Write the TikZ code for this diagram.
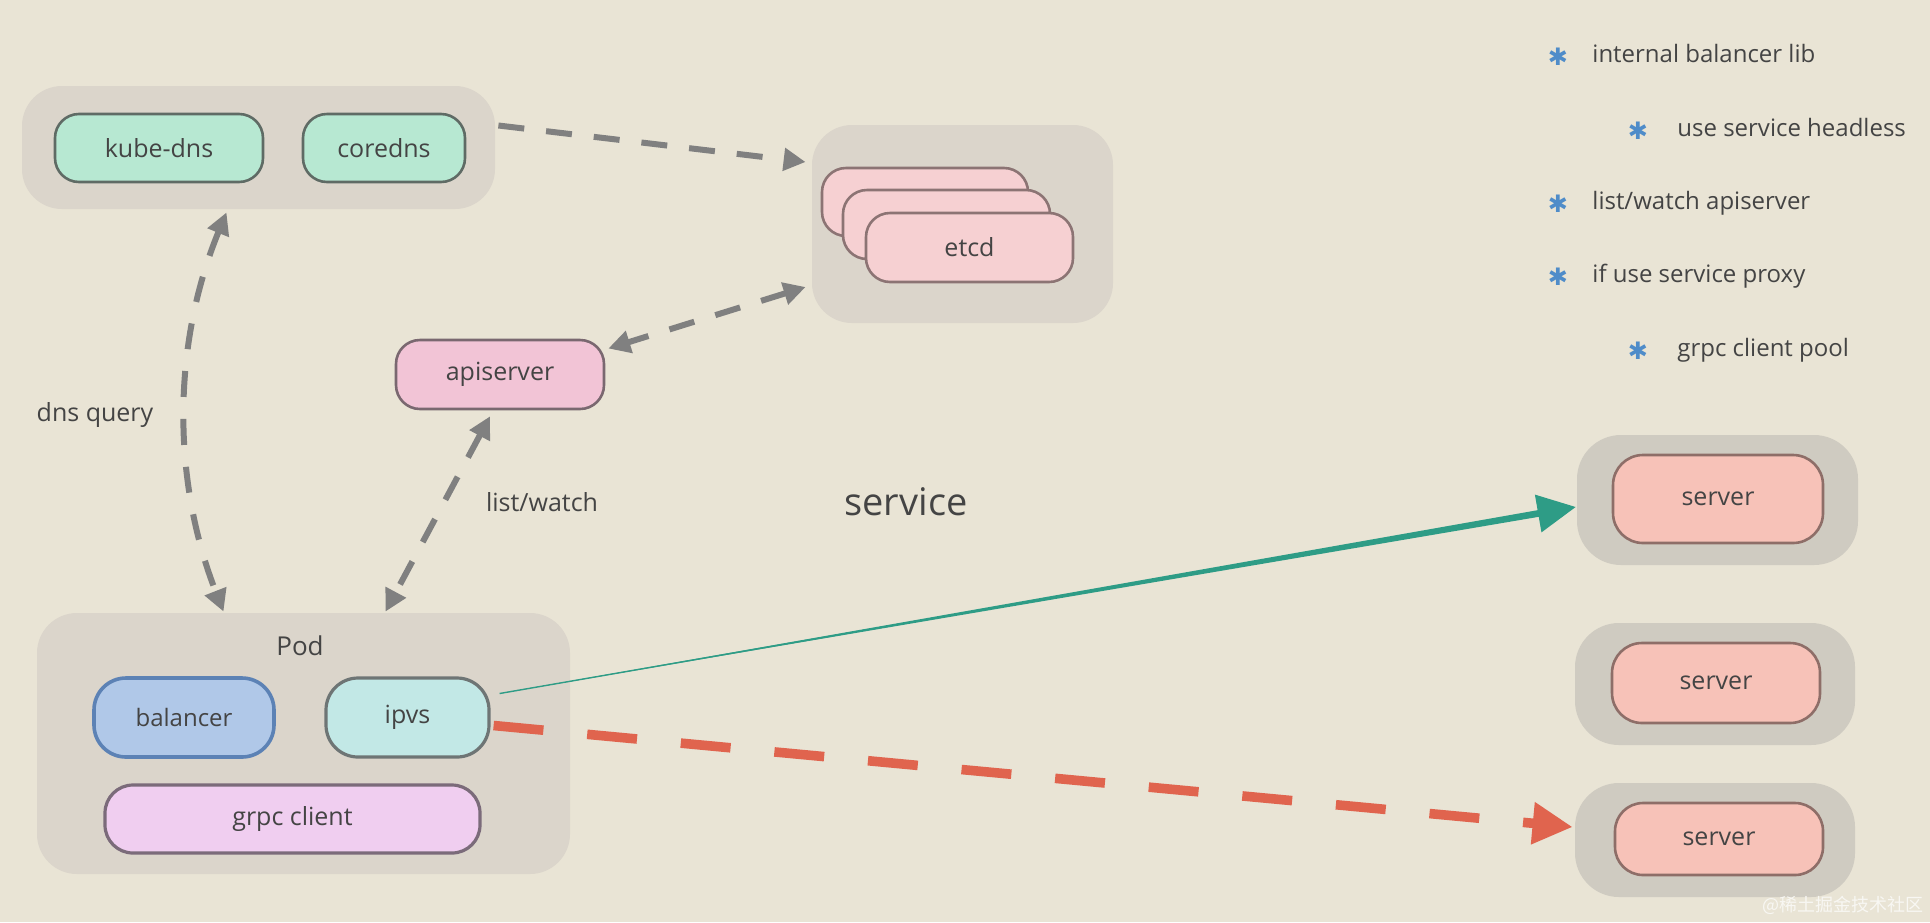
\documentclass[tikz,border=0pt]{standalone}
\usepackage{fontspec}
\setmainfont{Open Sans}
\newfontfamily\djv{DejaVu Sans}
\newfontfamily\cjkf{Noto Sans CJK SC}
\usetikzlibrary{arrows.meta,calc}

\definecolor{bg}{HTML}{E9E4D5}
\definecolor{contgray}{HTML}{DBD5CB}
\definecolor{srvgray}{HTML}{CFCBC1}
\definecolor{txt}{HTML}{444444}
\definecolor{mint}{HTML}{B7E8D2}
\definecolor{mintd}{HTML}{5F6B65}
\definecolor{etcdf}{HTML}{F6D0D2}
\definecolor{etcdd}{HTML}{8C7474}
\definecolor{apif}{HTML}{F2C4D6}
\definecolor{apid}{HTML}{7A6870}
\definecolor{balf}{HTML}{B0C8E8}
\definecolor{bald}{HTML}{5C82B5}
\definecolor{ipvsf}{HTML}{C2E8E6}
\definecolor{ipvsd}{HTML}{6E7575}
\definecolor{grpcf}{HTML}{F0CEF0}
\definecolor{grpcd}{HTML}{7B6B7A}
\definecolor{srvf}{HTML}{F7C2B8}
\definecolor{srvd}{HTML}{8E6E68}
\definecolor{arrgray}{HTML}{808080}
\definecolor{tealc}{HTML}{2E9C86}
\definecolor{redc}{HTML}{E0644E}
\definecolor{starb}{HTML}{4F8CC9}
\definecolor{wmark}{HTML}{F8F7F3}

\tikzset{
  cont/.style={rounded corners=20pt, fill=contgray, inner sep=0pt},
  scont/.style={rounded corners=22pt, fill=srvgray, inner sep=0pt},
  box/.style={rounded corners=12pt, draw, line width=1.3pt, inner sep=0pt, text=txt,
              font=\fontsize{12.5}{15}\selectfont},
  lbl/.style={text=txt, inner sep=0pt, font=\fontsize{12.5}{15}\selectfont},
  blt/.style={text=txt, inner sep=0pt, anchor=base west, font=\fontsize{12}{14}\selectfont},
  star/.style={text=starb, inner sep=0pt, font=\djv\fontsize{12}{14}\selectfont},
  gdash/.style={draw=arrgray, line width=3pt, dash pattern=on 13pt off 11pt},
  gtip/.style={-{Triangle[length=11pt,width=11pt]}},
  gtips/.style={{Triangle[length=11pt,width=11pt]}-{Triangle[length=11pt,width=11pt]}}
}

\begin{document}
\begin{tikzpicture}[x=0.5pt,y=-0.5pt]
\fill[bg] (0,0) rectangle (1930,922);

% DNS group
\node[cont, minimum width=236.5pt, minimum height=61.5pt] (dns) at (258.5,147.5) {};
\node[box, fill=mint, draw=mintd, minimum width=104pt, minimum height=34pt] (kubedns) at (159,148) {kube-dns};
\node[box, fill=mint, draw=mintd, minimum width=81pt, minimum height=34pt] (coredns) at (384,148) {coredns};

% etcd group
\node[cont, minimum width=150.5pt, minimum height=99pt] (etcdc) at (962.5,224) {};
\node[box, fill=etcdf, draw=etcdd, minimum width=103pt, minimum height=34pt] (etcd3) at (925,202) {};
\node[box, fill=etcdf, draw=etcdd, minimum width=103.5pt, minimum height=34.5pt] (etcd2) at (946.5,224.5) {};
\node[box, fill=etcdf, draw=etcdd, minimum width=103.5pt, minimum height=34.5pt] (etcd1) at (969.5,247.5) {etcd};

% apiserver
\node[box, fill=apif, draw=apid, minimum width=104pt, minimum height=34.5pt] (api) at (500,374.5) {apiserver};

% Pod
\node[cont, minimum width=266.5pt, minimum height=130.5pt] (pod) at (303.5,743.5) {};
\node[lbl, font=\fontsize{13}{15}\selectfont] (podlbl) at (300,646) {Pod};
\node[box, fill=balf, draw=bald, line width=1.8pt, rounded corners=16pt, minimum width=90pt, minimum height=39.5pt, font=\fontsize{12}{14}\selectfont] (bal) at (184,717.5) {balancer};
\node[box, fill=ipvsf, draw=ipvsd, line width=1.6pt, rounded corners=16pt, minimum width=81.5pt, minimum height=39.5pt] (ipvs) at (407.5,717.5) {ipvs};
\node[box, fill=grpcf, draw=grpcd, line width=1.6pt, rounded corners=14pt, minimum width=187.5pt, minimum height=34pt] (grpc) at (292.5,819) {grpc client};

% servers
\node[scont, minimum width=140.5pt, minimum height=65pt] (s1c) at (1717.5,500) {};
\node[box, fill=srvf, draw=srvd, rounded corners=15pt, minimum width=105pt, minimum height=44pt] (s1) at (1718,499) {server};
\node[scont, minimum width=140pt, minimum height=61pt] (s2c) at (1715,684) {};
\node[box, fill=srvf, draw=srvd, rounded corners=15pt, minimum width=104pt, minimum height=40pt] (s2) at (1716,683) {server};
\node[scont, minimum width=140pt, minimum height=57pt] (s3c) at (1715,840) {};
\node[box, fill=srvf, draw=srvd, rounded corners=14pt, minimum width=104pt, minimum height=36pt] (s3) at (1719,839) {server};

% labels
\node[lbl] (dnsq) at (95,415) {dns query};
\node[lbl] (lw) at (542,502) {list/watch};
\node[lbl, font=\fontsize{19}{22}\selectfont] (svc) at (906,502) {service};

% bullet list
\node[star] (st1) at (1558,57) {✱};
\node[blt] (b1) at (1592,62) {internal balancer lib};
\node[star] (st2) at (1638,131) {✱};
\node[blt] (b2) at (1677,136) {use service headless};
\node[star] (st3) at (1558,204) {✱};
\node[blt] (b3) at (1592,209) {list/watch apiserver};
\node[star] (st4) at (1558,277) {✱};
\node[blt] (b4) at (1592,282) {if use service proxy};
\node[star] (st5) at (1638,351) {✱};
\node[blt] (b5) at (1677,356) {grpc client pool};

% watermark
\node[text=wmark, inner sep=0pt, anchor=east, font=\cjkf\fontsize{9}{11}\selectfont] (wm) at (1924,905) {@稀土掘金技术社区};

% gray dashed connectors
\draw[gdash, gtip] ($(dns.east)+(3,-22)$) -- ($(etcdc.west)+(-6,-62)$);
\draw[gdash, gtips] ($(dns.south)+(-32,3)$) .. controls (172,345) and (172,480) .. ($(pod.north)+(-80,-1)$);
\draw[gdash, gtips] ($(etcdc.west)+(-6,63)$) -- ($(api.east)+(3,-26)$);
\draw[gdash, gtips] ($(api.south)+(-10,6)$) -- ($(pod.north)+(82,-1)$);

% green connector
\coordinate (g1) at ($(ipvs.east)+(9,-24)$);
\coordinate (g2) at ($(s1c.west)+(-1,7)$);
\coordinate (gb) at ($(g1)!0.975!(g2)$);
\draw[draw=tealc, line width=0.7pt, -{Triangle[length=19pt,width=19pt]}] (g1) -- (g2);
\fill[tealc] (g1) -- ($(gb)!1.7pt!90:(g2)$) -- ($(gb)!1.7pt!-90:(g2)$) -- cycle;

% red dashed connector
\draw[draw=redc, line width=4.8pt, dash pattern=on 25pt off 22pt, -{Triangle[length=20pt,width=20pt]}] ($(ipvs.east)+(3,8)$) -- ($(s3c.west)+(-2,-13)$);
\end{tikzpicture}
\end{document}
